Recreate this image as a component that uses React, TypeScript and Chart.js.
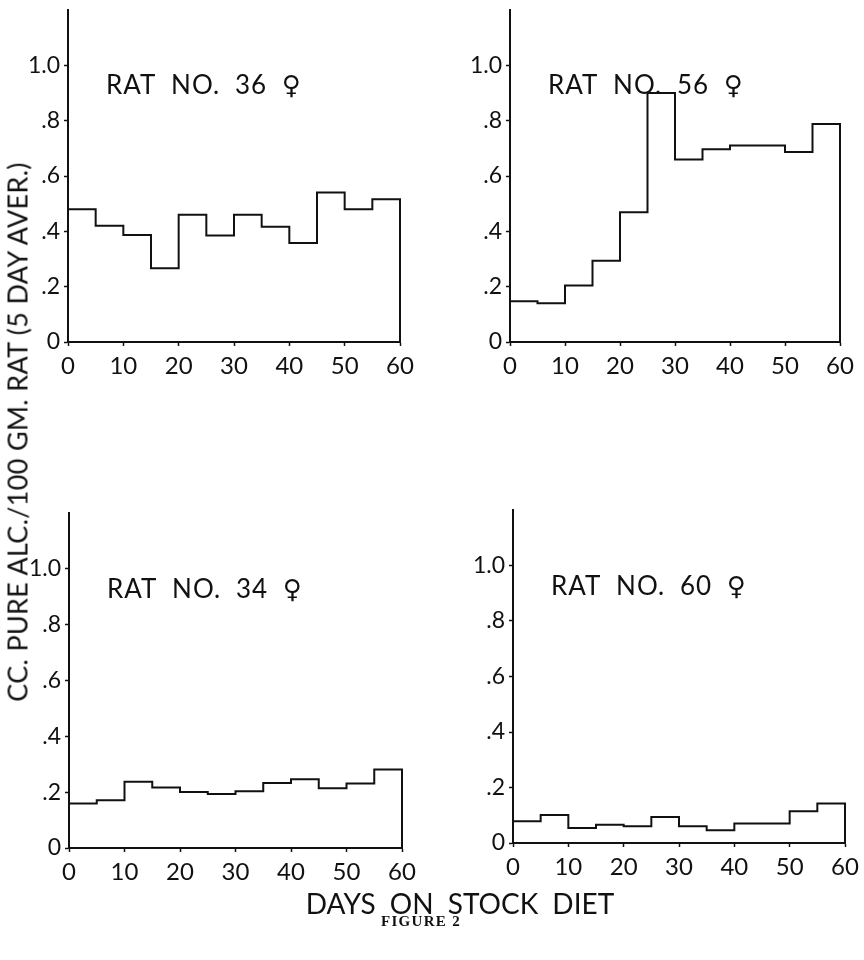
import React, { useEffect, useRef } from 'react';
import { Chart, registerables } from 'chart.js';

Chart.register(...registerables);

// ---- data ----
const binStarts = [0, 5, 10, 15, 20, 25, 30, 35, 40, 45, 50, 55];
const binEnd = 60;
const rat36 = [0.48, 0.42, 0.387, 0.267, 0.46, 0.385, 0.46, 0.417, 0.358, 0.54, 0.48, 0.516];
const rat56 = [0.147, 0.14, 0.204, 0.294, 0.469, 0.9, 0.66, 0.697, 0.71, 0.71, 0.687, 0.788];
const rat34 = [0.159, 0.171, 0.237, 0.217, 0.201, 0.193, 0.203, 0.233, 0.246, 0.214, 0.231, 0.281];
const rat60 = [0.078, 0.101, 0.054, 0.066, 0.06, 0.094, 0.06, 0.046, 0.07, 0.07, 0.114, 0.142];
const xTicks = [0, 10, 20, 30, 40, 50, 60];
const yTicks = [0, 0.2, 0.4, 0.6, 0.8, 1.0];
const yTickLabels = ['0', '.2', '.4', '.6', '.8', '1.0'];
const panelTitles = ['RAT NO. 36 \u2640', 'RAT NO. 56 \u2640', 'RAT NO. 34 \u2640', 'RAT NO. 60 \u2640'];
const yAxisTitle = 'CC. PURE ALC./100 GM. RAT (5 DAY AVER.)';
const xAxisTitle = 'DAYS ON STOCK DIET';
const figureLabel = 'FIGURE 2';

const seriesList = [rat36, rat56, rat34, rat60];

// chart-area boxes for each panel (left, top, right, bottom)
const areas = [
  { l: 68, t: 10, r: 400, b: 342 },
  { l: 510, t: 10, r: 840, b: 342 },
  { l: 69, t: 513, r: 402, b: 848 },
  { l: 513, t: 510, r: 845, b: 843 },
];

const Y_W = 60;
const TOP_PAD = 10;
const X_H = 50;
const RIGHT_PAD = 30;
const FONT = "Lato, 'DejaVu Sans', sans-serif";

function stepPoints(values: number[]) {
  const pts = [{ x: binStarts[0], y: 0 }];
  values.forEach((v, i) => pts.push({ x: binStarts[i], y: v }));
  pts.push({ x: binEnd, y: 0 });
  return pts;
}

const titlePlugin = {
  id: 'panelTitle',
  afterDraw(chart: any) {
    const t = chart.options.plugins.panelTitle;
    if (!t || !t.text) return;
    const { ctx, chartArea, scales } = chart;
    ctx.save();
    ctx.fillStyle = '#111';
    ctx.font = `26px ${FONT}`;
    try {
      (ctx as any).letterSpacing = '1px';
      (ctx as any).wordSpacing = '7px';
    } catch (e) {}
    ctx.textBaseline = 'alphabetic';
    ctx.textAlign = 'left';
    ctx.fillText(t.text, chartArea.left + 38, scales.y.getPixelForValue(0.895));
    ctx.restore();
  },
};

function Panel({ idx }: { idx: number }) {
  const ref = useRef<HTMLCanvasElement | null>(null);
  const a = areas[idx];
  const w = Y_W + (a.r - a.l) + RIGHT_PAD;
  const h = TOP_PAD + (a.b - a.t) + X_H;
  useEffect(() => {
    if (!ref.current) return;
    const chart = new Chart(ref.current, {
      type: 'line',
      data: {
        datasets: [
          {
            data: stepPoints(seriesList[idx]),
            stepped: 'before',
            borderColor: '#111',
            borderWidth: 2,
            pointRadius: 0,
            fill: false,
            clip: false as any,
          },
        ],
      },
      options: {
        responsive: false,
        animation: false,
        layout: { padding: { left: 0, top: TOP_PAD, right: RIGHT_PAD, bottom: 0 } },
        plugins: {
          legend: { display: false },
          tooltip: { enabled: false },
          // @ts-ignore
          panelTitle: { text: panelTitles[idx] },
        },
        scales: {
          x: {
            type: 'linear',
            min: 0,
            max: 60,
            afterBuildTicks: (s: any) => {
              s.ticks = xTicks.map((v) => ({ value: v }));
            },
            afterFit: (s: any) => {
              s.height = X_H;
              s.paddingLeft = 0;
              s.paddingRight = 0;
            },
            grid: { drawOnChartArea: false, drawTicks: true, tickLength: 4, tickColor: '#111', tickWidth: 1.5 },
            border: { display: true, color: '#111', width: 2 },
            ticks: {
              color: '#111',
              padding: 6,
              maxRotation: 0,
              font: { family: FONT, size: 24 },
              callback: (v: any) => String(v),
            },
          },
          y: {
            type: 'linear',
            min: 0,
            max: 1.2,
            afterBuildTicks: (s: any) => {
              s.ticks = yTicks.map((v) => ({ value: v }));
            },
            afterFit: (s: any) => {
              s.width = Y_W;
              s.paddingTop = 0;
              s.paddingBottom = 0;
            },
            grid: { drawOnChartArea: false, drawTicks: true, tickLength: 4, tickColor: '#111', tickWidth: 1.5 },
            border: { display: true, color: '#111', width: 2 },
            ticks: {
              color: '#111',
              padding: 4,
              font: { family: FONT, size: 23 },
              callback: (v: any) => {
                const i = yTicks.findIndex((t) => Math.abs(t - v) < 1e-9);
                return i >= 0 ? yTickLabels[i] : '';
              },
            },
          },
        },
      },
      plugins: [titlePlugin],
    } as any);
    return () => chart.destroy();
  }, [idx]);
  return (
    <canvas
      ref={ref}
      width={w}
      height={h}
      style={{ position: 'absolute', left: a.l - Y_W, top: a.t - TOP_PAD, width: w, height: h }}
    />
  );
}

export default function App() {
  return (
    <div
      style={{
        position: 'absolute',
        left: 0,
        top: 0,
        width: 864,
        height: 960,
        background: '#fff',
        overflow: 'hidden',
      }}
    >
      {[0, 1, 2, 3].map((i) => (
        <Panel key={i} idx={i} />
      ))}
      <div
        style={{
          position: 'absolute',
          left: 17,
          top: 432,
          transform: 'translate(-50%, -50%) rotate(-90deg)',
          whiteSpace: 'nowrap',
          fontFamily: FONT,
          fontSize: 27,
          letterSpacing: 0.3,
          color: '#111',
          lineHeight: 1,
        }}
      >
        {yAxisTitle}
      </div>
      <div
        style={{
          position: 'absolute',
          left: 460,
          top: 889,
          transform: 'translateX(-50%)',
          whiteSpace: 'nowrap',
          fontFamily: FONT,
          fontSize: 28,
          color: '#111',
          lineHeight: 1,
          wordSpacing: 7,
        }}
      >
        {xAxisTitle}
      </div>
      <div
        style={{
          position: 'absolute',
          left: 421,
          top: 914,
          transform: 'translateX(-50%)',
          whiteSpace: 'nowrap',
          fontFamily: "'Liberation Serif', 'DejaVu Serif', serif",
          fontWeight: 'bold',
          fontSize: 15,
          letterSpacing: 1.3,
          color: '#111',
          lineHeight: 1,
        }}
      >
        {figureLabel}
      </div>
    </div>
  );
}
